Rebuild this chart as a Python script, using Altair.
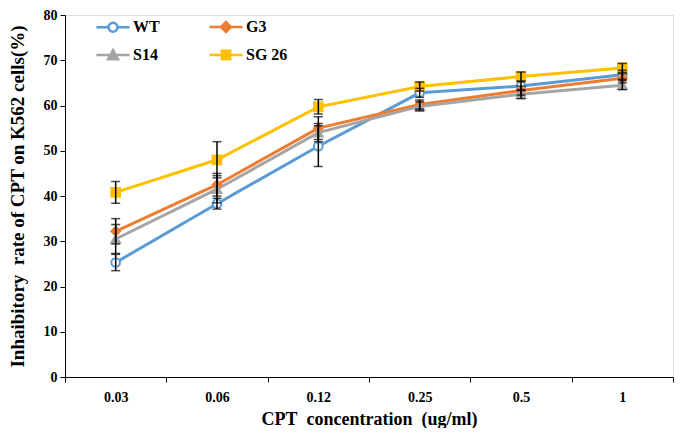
import altair as alt
import pandas as pd

conc = ["0.03", "0.06", "0.12", "0.25", "0.5", "1"]
series = ["WT", "G3", "S14", "SG 26"]
wt = [25.3, 38.3, 51.0, 62.8, 64.3, 66.8]
g3 = [32.2, 42.5, 55.0, 60.2, 63.3, 66.0]
s14 = [30.5, 41.5, 54.0, 59.8, 62.5, 64.5]
sg26 = [40.8, 48.0, 59.7, 64.2, 66.4, 68.3]
wt_err = [1.8, 1.2, 4.5, 1.0, 1.0, 1.0]
g3_err = [2.8, 2.5, 2.5, 1.0, 1.0, 1.0]
s14_err = [3.2, 3.0, 2.0, 1.0, 1.0, 1.0]
sg26_err = [2.4, 4.0, 1.6, 1.0, 1.0, 1.0]

colors = ["#5B9BD5", "#ED7D31", "#A5A5A5", "#FFC000"]
fills = ["white", "#ED7D31", "#A5A5A5", "#FFC000"]
marker_shapes = ["circle", "diamond", "triangle-up", "square"]
legend_paths = [
    "M-1,0H-0.27M0.27,0H1M0.27,0A0.27,0.27 0 1,1 -0.27,0A0.27,0.27 0 1,1 0.27,0Z",
    "M-1,0H1M0,-0.3L0.3,0L0,0.3L-0.3,0Z",
    "M-1,0H1M0,-0.3L0.3,0.25L-0.3,0.25Z",
    "M-1,0H1M-0.25,-0.25H0.25V0.25H-0.25Z",
]

vals = [wt, g3, s14, sg26]
errs = [wt_err, g3_err, s14_err, sg26_err]
rows = []
for s, v, e in zip(series, vals, errs):
    for c, vv, ee in zip(conc, v, e):
        rows.append({"series": s, "conc": c, "value": vv, "lo": vv - ee, "hi": vv + ee})
df = pd.DataFrame(rows)

FONT = "Liberation Serif"
NB = "\u00a0"
Y_TITLE = "Inhaibitory" + NB + " rate of CPT on K562 cells(%)"
X_TITLE = "CPT" + NB + " concentration" + NB + " (ug/ml)"

x_enc = alt.X("conc:N", sort=conc,
              scale=alt.Scale(type="band", paddingInner=0, paddingOuter=0),
              axis=alt.Axis(title=X_TITLE, labelAngle=0,
                            tickBand="extent", labelPadding=8, titlePadding=6,
                            labelFont=FONT, labelFontSize=14, labelFontWeight="bold",
                            titleFont=FONT, titleFontSize=18, titleFontWeight="bold",
                            domainColor="black", tickColor="black", tickSize=5,
                            labelColor="black", titleColor="black"))
y_scale = alt.Scale(domain=[0, 80], nice=False)
y_axis = alt.Axis(title=Y_TITLE,
                  values=list(range(0, 81, 10)), grid=False,
                  labelFont=FONT, labelFontSize=14, labelFontWeight="bold",
                  titleFont=FONT, titleFontSize=19, titleFontWeight="bold",
                  domainColor="black", tickColor="black", tickSize=5,
                  labelPadding=3, titlePadding=16,
                  labelColor="black", titleColor="black")
y_enc = alt.Y("value:Q", scale=y_scale, axis=y_axis)

base = alt.Chart(df)
layers = []
for s, col in zip(series, colors):
    layers.append(base.transform_filter(alt.datum.series == s)
                  .mark_line(color=col, strokeWidth=3)
                  .encode(x=x_enc, y=y_enc))
for s, col, fl, sh in zip(series, colors, fills, marker_shapes):
    layers.append(base.transform_filter(alt.datum.series == s)
                  .mark_point(shape=sh, stroke=col, fill=fl, fillOpacity=1, opacity=1,
                              strokeWidth=2, size=75)
                  .encode(x=x_enc, y=y_enc))

err = base.mark_errorbar(ticks={"size": 9, "thickness": 1.5, "color": "black"},
                         rule={"strokeWidth": 1.5, "color": "black"}, color="black").encode(
    x=x_enc,
    y=alt.Y("lo:Q", scale=y_scale, axis=y_axis),
    y2="hi:Q",
)
layers.append(err)

legend_layer = base.mark_point(opacity=0, strokeWidth=2.5, size=1100).encode(
    x=x_enc, y=y_enc,
    shape=alt.Shape("series:N", sort=series,
                    scale=alt.Scale(domain=series, range=legend_paths),
                    legend=alt.Legend(title=None, orient="none", legendX=30, legendY=-6,
                                      columns=2, direction="horizontal",
                                      columnPadding=44, rowPadding=-1,
                                      symbolSize=1100, symbolStrokeWidth=2.5,
                                      symbolOpacity=1,
                                      labelFont=FONT, labelFontSize=16,
                                      labelFontWeight="bold", labelColor="black",
                                      labelOffset=2)),
    stroke=alt.Stroke("series:N", sort=series,
                      scale=alt.Scale(domain=series, range=colors)),
    fill=alt.Fill("series:N", sort=series,
                  scale=alt.Scale(domain=series, range=fills)),
)
layers.append(legend_layer)

chart = alt.layer(*layers).properties(
    width=608, height=362, padding={"left": 0, "top": 0, "right": 0, "bottom": 0}
).configure_view(stroke=None).configure(background="white")

chart.save("out.html", embed_options={"renderer": "svg", "actions": False})
